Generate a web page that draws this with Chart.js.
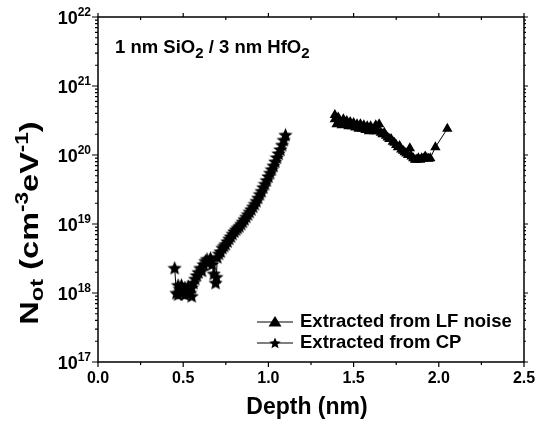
<!DOCTYPE html>
<html>
<head>
<meta charset="utf-8">
<script src="https://cdn.jsdelivr.net/npm/chart.js@4.4.1/dist/chart.umd.min.js"></script>
<style>
  body { margin: 0; background: #fff; }
  #wrap { width: 544px; height: 422px; }
</style>
</head>
<body>
<div id="wrap"><canvas id="chart" width="544" height="422"></canvas></div>
<script>
// Trap density vs depth

// Extracted from CP (stars)
const cpDepth = [0.45, 0.46, 0.47, 0.47, 0.48, 0.49, 0.49, 0.50, 0.51, 0.51, 0.52, 0.53, 0.54, 0.55, 0.55,
    0.56, 0.57, 0.58, 0.59, 0.60, 0.61, 0.62, 0.63, 0.64, 0.65, 0.66, 0.67, 0.68, 0.69, 0.695,
    0.70, 0.71, 0.72, 0.73, 0.74, 0.75, 0.76, 0.77, 0.78, 0.79, 0.80, 0.81, 0.82, 0.83, 0.84,
    0.85, 0.86, 0.87, 0.88, 0.89, 0.90, 0.91, 0.92, 0.93, 0.94, 0.95, 0.96, 0.97, 0.98, 0.99,
    1.00, 1.01, 1.02, 1.03, 1.04, 1.05, 1.06, 1.07, 1.08, 1.09, 1.10];
const cpNot = [2.3e18, 1.0e18, 1.3e18, 0.95e18, 1.15e18, 1.0e18, 1.3e18, 1.1e18, 0.95e18, 1.2e18, 1.05e18, 1.25e18, 1.0e18, 0.9e18, 1.2e18,
    1.4e18, 1.6e18, 1.8e18, 2.0e18, 2.3e18, 2.1e18, 2.6e18, 2.9e18, 3.1e18, 2.8e18, 3.2e18, 2.6e18, 1.9e18, 1.4e18, 1.7e18,
    3.3e18, 3.7e18, 4.0e18, 4.5e18, 4.8e18, 5.1e18, 5.6e18, 6.1e18, 6.6e18, 7.2e18, 7.8e18, 8.3e18, 8.8e18, 9.3e18, 1.0e19,
    1.08e19, 1.17e19, 1.27e19, 1.38e19, 1.5e19, 1.63e19, 1.78e19, 1.95e19, 2.15e19, 2.4e19, 2.7e19, 3.0e19, 3.4e19, 3.8e19, 4.3e19,
    4.9e19, 5.5e19, 6.2e19, 7.0e19, 8.0e19, 9.2e19, 1.05e20, 1.2e20, 1.4e20, 1.65e20, 1.95e20];

// Extracted from LF noise (triangles)
const lfDepth = [1.39, 1.39, 1.40, 1.41, 1.42, 1.43, 1.44, 1.45, 1.46, 1.47, 1.48, 1.49, 1.50, 1.51, 1.52,
    1.53, 1.54, 1.55, 1.56, 1.57, 1.58, 1.59, 1.60, 1.61, 1.62, 1.63, 1.64, 1.65, 1.66, 1.67,
    1.68, 1.69, 1.70, 1.71, 1.72, 1.73, 1.74, 1.75, 1.76, 1.77, 1.78, 1.79, 1.80, 1.81, 1.82,
    1.83, 1.84, 1.85, 1.86, 1.87, 1.88, 1.89, 1.90, 1.91, 1.92, 1.93, 1.94, 1.95, 1.98, 2.05];
const lfNot = [3.3e20, 3.8e20, 2.8e20, 3.5e20, 3.1e20, 2.7e20, 3.3e20, 2.8e20, 3.1e20, 2.6e20, 3.0e20, 2.6e20, 2.9e20, 2.5e20, 2.8e20,
    2.4e20, 2.8e20, 2.4e20, 2.7e20, 2.3e20, 2.6e20, 2.2e20, 2.6e20, 2.3e20, 2.2e20, 2.7e20, 2.2e20, 2.8e20, 2.1e20, 2.0e20,
    2.1e20, 1.9e20, 1.8e20, 1.7e20, 1.7e20, 1.55e20, 1.5e20, 1.4e20, 1.3e20, 1.35e20, 1.2e20, 1.15e20, 1.1e20, 1.05e20, 1.0e20,
    1.25e20, 0.95e20, 0.9e20, 0.85e20, 0.85e20, 0.9e20, 0.85e20, 0.9e20, 0.88e20, 0.95e20, 0.9e20, 0.88e20, 0.9e20, 1.3e20, 2.4e20];

const seriesNames = ['Extracted from LF noise', 'Extracted from CP'];

// axis ticks
const xTicks = [0.0, 0.5, 1.0, 1.5, 2.0, 2.5];
const xMinorTicks = [0.25, 0.75, 1.25, 1.75, 2.25];
const yExponents = [17, 18, 19, 20, 21, 22];

const FONT = "'Liberation Sans', Arial, sans-serif";

// filled five point star used as point style
function makeStar(size) {
    const c = document.createElement('canvas');
    c.width = size;
    c.height = size;
    const g = c.getContext('2d');
    const cx = size / 2, cy = size / 2 + 0.5;
    const outer = size / 2, inner = outer * 0.45;
    g.beginPath();
    for (let i = 0; i < 10; i++) {
        const r = i % 2 === 0 ? outer : inner;
        const a = -Math.PI / 2 + i * Math.PI / 5;
        const px = cx + r * Math.cos(a), py = cy + r * Math.sin(a);
        if (i === 0) g.moveTo(px, py); else g.lineTo(px, py);
    }
    g.closePath();
    g.fillStyle = '#000';
    g.fill();
    return c;
}
const starImg = makeStar(15);
const legendStar = makeStar(12);

function toPoints(xs, ys) {
    return xs.map((x, i) => ({ x: x, y: ys[i] }));
}

// text with sub/superscripts
function runsWidth(ctx, runs) {
    let w = 0;
    runs.forEach(r => { ctx.font = r.font; w += ctx.measureText(r.text).width; });
    return w;
}
function drawRuns(ctx, runs, x, y) {
    runs.forEach(r => {
        ctx.font = r.font;
        ctx.fillText(r.text, x, y + (r.dy || 0));
        x += ctx.measureText(r.text).width;
    });
    return x;
}

const decorPlugin = {
    id: 'decor',
    afterDraw(chart) {
        const ctx = chart.ctx;
        const xs = chart.scales.x, ys = chart.scales.y;
        const a = chart.chartArea;
        ctx.save();
        ctx.strokeStyle = '#000';
        ctx.fillStyle = '#000';

        // frame
        ctx.lineWidth = 1.5;
        ctx.strokeRect(a.left, a.top, a.right - a.left, a.bottom - a.top);

        // x ticks
        ctx.lineWidth = 1.2;
        ctx.beginPath();
        xTicks.forEach(v => {
            const px = xs.getPixelForValue(v);
            ctx.moveTo(px, a.bottom); ctx.lineTo(px, a.bottom + 5);
            ctx.moveTo(px, a.top); ctx.lineTo(px, a.top - 4);
        });
        xMinorTicks.forEach(v => {
            const px = xs.getPixelForValue(v);
            ctx.moveTo(px, a.bottom); ctx.lineTo(px, a.bottom + 3);
            ctx.moveTo(px, a.top); ctx.lineTo(px, a.top + 3);
        });
        // y ticks (log)
        yExponents.forEach((e, i) => {
            const py = ys.getPixelForValue(Math.pow(10, e));
            ctx.moveTo(a.left, py); ctx.lineTo(a.left - 6, py);
            ctx.moveTo(a.right, py); ctx.lineTo(a.right + 4, py);
            if (i < yExponents.length - 1) {
                for (let m = 2; m <= 9; m++) {
                    const pm = ys.getPixelForValue(m * Math.pow(10, e));
                    ctx.moveTo(a.left, pm); ctx.lineTo(a.left - 3, pm);
                    ctx.moveTo(a.right, pm); ctx.lineTo(a.right + 2, pm);
                }
            }
        });
        ctx.stroke();

        // x tick labels
        ctx.font = 'bold 16px ' + FONT;
        ctx.textAlign = 'center';
        ctx.textBaseline = 'top';
        xTicks.forEach(v => {
            ctx.fillText(v.toFixed(1), xs.getPixelForValue(v), a.bottom + 9);
        });

        // y tick labels 10^n
        ctx.textAlign = 'left';
        ctx.textBaseline = 'alphabetic';
        yExponents.forEach(e => {
            const py = ys.getPixelForValue(Math.pow(10, e));
            const runs = [
                { text: '10', font: 'bold 18px ' + FONT },
                { text: String(e), font: 'bold 12px ' + FONT, dy: -8 }
            ];
            const w = runsWidth(ctx, runs);
            drawRuns(ctx, runs, a.left - 7 - w, py + 7);
        });

        // x title
        ctx.font = 'bold 23px ' + FONT;
        ctx.textAlign = 'center';
        ctx.fillText('Depth (nm)', (a.left + a.right) / 2 - 4, 414);

        // y title, rotated and stretched along the text
        ctx.textAlign = 'left';
        const yRuns = [
            { text: 'N', font: 'bold 26px ' + FONT },
            { text: 'ot', font: 'bold 19px ' + FONT, dy: 5 },
            { text: ' (cm', font: 'bold 26px ' + FONT },
            { text: '-3', font: 'bold 18px ' + FONT, dy: -10 },
            { text: 'eV', font: 'bold 26px ' + FONT },
            { text: '-1', font: 'bold 18px ' + FONT, dy: -10 },
            { text: ')', font: 'bold 26px ' + FONT }
        ];
        const yw = runsWidth(ctx, yRuns);
        ctx.save();
        ctx.translate(38, 223);
        ctx.rotate(-Math.PI / 2);
        ctx.scale(1.25, 1);
        drawRuns(ctx, yRuns, -yw / 2, 0);
        ctx.restore();

        // sample annotation
        drawRuns(ctx, [
            { text: '1 nm SiO', font: 'bold 18.5px ' + FONT },
            { text: '2', font: 'bold 15px ' + FONT, dy: 5 },
            { text: ' / 3 nm HfO', font: 'bold 18.5px ' + FONT },
            { text: '2', font: 'bold 15px ' + FONT, dy: 5 }
        ], 115, 53);

        // legend
        const legY = [322, 343];
        ctx.lineWidth = 1;
        legY.forEach((ly, i) => {
            ctx.beginPath();
            ctx.moveTo(257, ly); ctx.lineTo(293, ly);
            ctx.stroke();
            if (i === 0) {
                ctx.beginPath();
                ctx.moveTo(275, ly - 6); ctx.lineTo(281.5, ly + 4.5); ctx.lineTo(268.5, ly + 4.5);
                ctx.closePath();
                ctx.fill();
            } else {
                ctx.drawImage(legendStar, 275 - legendStar.width / 2, ly - legendStar.height / 2);
            }
            ctx.font = 'bold 18.5px ' + FONT;
            ctx.textBaseline = 'middle';
            ctx.fillText(seriesNames[i], 300, ly);
        });
        ctx.restore();
    }
};

const ctx = document.getElementById('chart').getContext('2d');
new Chart(ctx, {
    type: 'scatter',
    data: {
        datasets: [{
            label: seriesNames[0],
            data: toPoints(lfDepth, lfNot),
            showLine: true,
            borderColor: '#000',
            borderWidth: 1,
            backgroundColor: '#000',
            pointStyle: 'triangle',
            pointRadius: 6,
            pointBorderWidth: 0
        }, {
            label: seriesNames[1],
            data: toPoints(cpDepth, cpNot),
            showLine: true,
            borderColor: '#000',
            borderWidth: 1,
            backgroundColor: '#000',
            pointStyle: starImg,
            pointRadius: 6
        }]
    },
    options: {
        responsive: false,
        animation: false,
        layout: {
            autoPadding: false,
            padding: { left: 98, right: 20, top: 17, bottom: 60 }
        },
        plugins: {
            legend: { display: false },
            tooltip: { enabled: false }
        },
        scales: {
            x: { type: 'linear', min: 0, max: 2.5, display: false },
            y: { type: 'logarithmic', min: 1e17, max: 1e22, display: false }
        }
    },
    plugins: [decorPlugin]
});
</script>
</body>
</html>
